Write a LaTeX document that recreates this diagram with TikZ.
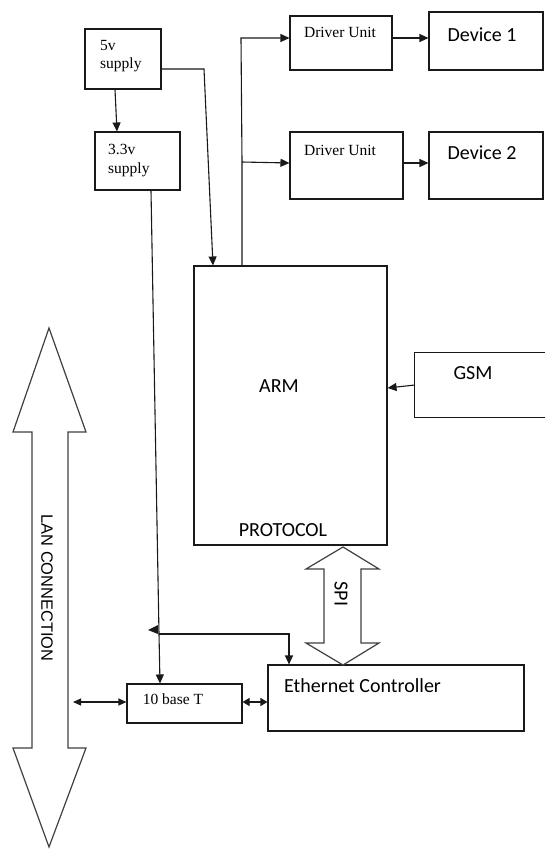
\documentclass[tikz,border=0pt]{standalone}
\usepackage{fontspec}
\setmainfont{Liberation Serif}
\newfontfamily\calfont{Carlito}
\newfontfamily\arialfont{Liberation Sans}
\usetikzlibrary{arrows.meta,calc}
\begin{document}
\begin{tikzpicture}[x=1pt,y=-1pt,
  box/.style={draw=black!90, line width=1.1pt, rectangle, inner sep=0pt},
  plainbox/.style={rectangle, inner sep=0pt},
  boxline/.style={draw=black!90, line width=1.1pt},
  shapeline/.style={draw=black!75, line width=1.2pt, line join=miter},
  serift/.style={font=\fontsize{15.5}{18}\selectfont, inner sep=0pt},
  calt/.style={font=\calfont\fontsize{20}{24}\selectfont, inner sep=0pt},
  conn/.style={draw=black!90, line width=1.1pt, -{Triangle[length=9pt,width=8pt]}},
  dconn/.style={draw=black!90, line width=1.1pt, {Triangle[length=8pt,width=7pt]}-{Triangle[length=8pt,width=7pt]}},
  dconnsmall/.style={draw=black!90, line width=1.1pt, {Triangle[length=7pt,width=8pt]}-{Triangle[length=7pt,width=8pt]}}
]
\useasboundingbox (0,0) rectangle (545,849);
\fill[white] (0,0) rectangle (545,849);

% boxes
\node[box, minimum width=76pt, minimum height=60pt] (s5) at (123,59) {};
\node[box, minimum width=85pt, minimum height=58pt] (s33) at (137.5,161) {};
\node[box, minimum width=102pt, minimum height=54pt] (drv1) at (341,43) {};
\node[box, minimum width=114pt, minimum height=58pt] (dev1) at (486,41) {};
\node[box, minimum width=113pt, minimum height=67pt] (drv2) at (346.5,165.5) {};
\node[box, minimum width=114pt, minimum height=67pt] (dev2) at (486,165.5) {};
\node[box, minimum width=193pt, minimum height=279pt] (arm) at (290.5,405.5) {};
\node[plainbox, minimum width=131pt, minimum height=64pt] (gsm) at (480.5,385) {};
\draw[boxline] (gsm.north east) -- (gsm.north west) -- (gsm.south west) -- (gsm.south east);
\node[box, minimum width=256pt, minimum height=66pt] (eth) at (396,698) {};
\node[box, minimum width=115pt, minimum height=39pt] (tbt) at (184.5,703.5) {};

% texts
\node[serift, anchor=base west] (t5a) at (100,50) {5v};
\node[serift, anchor=base west] (t5b) at (100,68) {supply};
\node[serift, anchor=base west] (t33a) at (108,154) {3.3v};
\node[serift, anchor=base west] (t33b) at (108,173) {supply};
\node[serift, anchor=base] (td1) at (340,37) {Driver Unit};
\node[serift, anchor=base] (td2) at (340,155) {Driver Unit};
\node[calt, anchor=base] (tdev1) at (482,41) {Device 1};
\node[calt, anchor=base] (tdev2) at (482,159) {Device 2};
\node[calt, anchor=base] (tarm) at (279,392) {ARM};
\node[calt, anchor=base] (tprot) at (283,536) {PROTOCOL};
\node[calt, anchor=base] (tgsm) at (473,379) {GSM};
\node[calt, anchor=base west] (teth) at (284,692) {Ethernet Controller};
\node[serift, anchor=base] (ttbt) at (173,704) {10 base T};

% big double arrows
\draw[shapeline] (49,328) -- (86,432) -- (68,432) -- (68,748) -- (86,748) -- (49,847)
  -- (13,748) -- (32,748) -- (32,432) -- (13,432) -- cycle;
\node[font=\arialfont\fontsize{16.4}{20}\selectfont, rotate=-90, inner sep=0pt] (tlan) at (47,588) {LAN CONNECTION};
\draw[shapeline] (343,547) -- (379,569) -- (361,569) -- (361,643) -- (379,643) -- (343,665)
  -- (306,643) -- (324,643) -- (324,569) -- (306,569) -- cycle;
\node[calt, rotate=-90] (tspi) at (341,594) {SPI};

% connectors
\draw[conn] ([xshift=-8pt]s5.south) -- ([xshift=-20.5pt]s33.north);
\coordinate (b1) at (204,69);
\draw[conn] ([yshift=-10pt]s5.east) -- (b1) -- ([xshift=-77.5pt]arm.north);
\coordinate (c1) at (241,38);
\coordinate (c2) at (242,162);
\draw[conn] ([xshift=-48.5pt]arm.north) -- (c2) -- (c1) -- ([yshift=5pt]drv1.west);
\draw[conn] (c2) -- ([yshift=2.5pt]drv2.west);
\draw[conn] ([yshift=5pt]drv1.east) -- ([yshift=3pt]dev1.west);
\draw[conn] ([yshift=2.5pt]drv2.east) -- ([yshift=2.5pt]dev2.west);
\draw[conn] (gsm.west) -- ([yshift=17.5pt]arm.east);
\coordinate (j) at (159,634);
\coordinate (k) at (289,634);
\draw[conn] ([xshift=13.5pt]s33.south) -- (j) -- ([xshift=-24.5pt]tbt.north);
\draw[conn] (j) -- (k) -- ([xshift=-107pt]eth.north);
\fill[black!90] (148,630) -- (158,625) -- (158,634) -- cycle;
\draw[dconnsmall] ([yshift=1.5pt]tbt.east) -- ([yshift=-4pt]eth.west);
\coordinate (lanr) at (73,702);
\draw[dconn] (lanr) -- ([yshift=1.5pt]tbt.west);
\end{tikzpicture}
\end{document}
